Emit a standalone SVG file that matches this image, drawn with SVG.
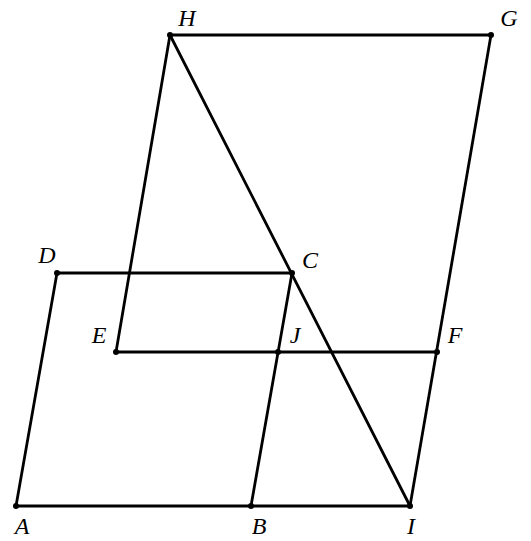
<svg xmlns="http://www.w3.org/2000/svg" width="531" height="541" viewBox="0 0 531 541">
<style>
.l{stroke:#000;stroke-width:2.8;fill:none;stroke-linecap:round}
.p{fill:#000}
.t{font-family:"Liberation Serif",serif;font-style:italic;font-size:24px;fill:#000;text-anchor:middle}
</style>
<rect width="531" height="541" fill="#fff"/>
<g id="connectors">
<line class="l" x1="16" y1="506" x2="410" y2="506"/>
<line class="l" x1="16" y1="506" x2="57" y2="273"/>
<line class="l" x1="57" y1="273" x2="292" y2="273"/>
<line class="l" x1="251" y1="506" x2="292" y2="273"/>
<line class="l" x1="170" y1="35" x2="491" y2="35"/>
<line class="l" x1="170" y1="35" x2="116" y2="352"/>
<line class="l" x1="116" y1="352" x2="437" y2="352"/>
<line class="l" x1="491" y1="35" x2="410" y2="506"/>
<line class="l" x1="170" y1="35" x2="410" y2="506"/>
</g>
<g id="A"><circle class="p" cx="16" cy="506" r="3"/><text class="t" x="22" y="534">A</text></g>
<g id="B"><circle class="p" cx="251" cy="506" r="3"/><text class="t" x="259" y="534">B</text></g>
<g id="I"><circle class="p" cx="410" cy="506" r="3"/><text class="t" x="411" y="534">I</text></g>
<g id="C"><circle class="p" cx="292" cy="273" r="3"/><text class="t" x="310" y="268">C</text></g>
<g id="D"><circle class="p" cx="57" cy="273" r="3"/><text class="t" x="47" y="263">D</text></g>
<g id="E"><circle class="p" cx="116" cy="352" r="3"/><text class="t" x="99" y="343">E</text></g>
<g id="J"><circle class="p" cx="278" cy="352" r="3"/><text class="t" x="295" y="343">J</text></g>
<g id="F"><circle class="p" cx="437" cy="352" r="3"/><text class="t" x="455" y="343">F</text></g>
<g id="H"><circle class="p" cx="170" cy="35" r="3"/><text class="t" x="187" y="26">H</text></g>
<g id="G"><circle class="p" cx="491" cy="35" r="3"/><text class="t" x="509" y="26">G</text></g>
</svg>
